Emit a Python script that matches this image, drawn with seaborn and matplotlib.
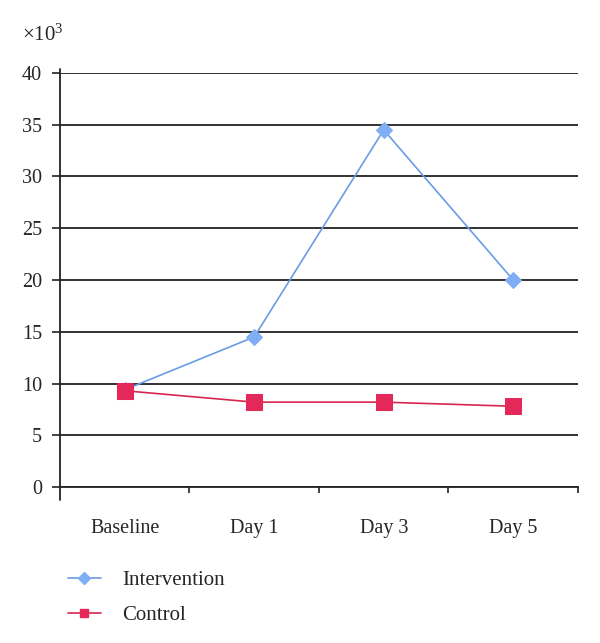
import matplotlib
matplotlib.use("Agg")
import matplotlib.pyplot as plt
from matplotlib.lines import Line2D
import seaborn as sns
import pandas as pd

categories = ["Baseline", "Day 1", "Day 3", "Day 5"]
intervention = [9.4, 14.5, 34.5, 20.0]
control = [9.3, 8.2, 8.2, 7.8]
series_names = ["Intervention", "Control"]
yticks = [0, 5, 10, 15, 20, 25, 30, 35, 40]

sns.set_theme(style="white")
plt.rcParams["font.family"] = ["Liberation Serif", "DejaVu Serif"]
plt.rcParams["mathtext.fontset"] = "custom"
plt.rcParams["mathtext.rm"] = "Liberation Serif"
plt.rcParams["mathtext.it"] = "Liberation Serif:italic"

blue_line = "#6A9BE6"
blue_mk = "#7FAEF5"
red_line = "#D9264F"
red_mk = "#E5285A"
dark = "#222222"

fig = plt.figure(figsize=(6.0, 6.43), dpi=100)
ax = fig.add_axes([0.1, 0.2426, 0.8633, 0.6439])

xpos = list(range(len(categories)))
df_i = pd.DataFrame({"x": xpos, "y": intervention})
df_c = pd.DataFrame({"x": xpos, "y": control})

sns.lineplot(data=df_i, x="x", y="y", ax=ax, color=blue_line, linewidth=1.2,
             marker="D", markersize=8.6, markerfacecolor=blue_mk,
             markeredgecolor=blue_mk, zorder=3)
sns.lineplot(data=df_c, x="x", y="y", ax=ax, color=red_line, linewidth=1.2,
             marker="s", markersize=11.5, markerfacecolor=red_mk,
             markeredgecolor=red_mk, zorder=4)

ax.set_xlim(-0.5, len(categories) - 0.5)
ax.set_ylim(0, 40)
ax.set_yticks(yticks)
ax.set_yticklabels([str(v) for v in yticks], fontsize=14.5)
ax.yaxis.grid(True, color=dark, linewidth=1.3)
ax.set_axisbelow(True)

ax.set_xticks(xpos)
ax.set_xticklabels(categories, fontsize=14.5)
ax.set_xticks([0.5, 1.5, 2.5, 3.5], minor=True)
ax.tick_params(axis="x", which="major", length=0, pad=23)
ax.tick_params(axis="x", which="minor", length=4.5, width=1.2, color=dark,
               direction="out", bottom=True)
ax.tick_params(axis="y", which="major", length=6, width=1.2, color=dark,
               direction="out", left=True, pad=7)
ax.set_xlabel("")
ax.set_ylabel("")

for s in ["top", "right", "left"]:
    ax.spines[s].set_visible(False)
ax.spines["bottom"].set_color(dark)
ax.spines["bottom"].set_linewidth(1.3)
# left axis line, extending slightly beyond the plot area as in the original
ax.plot([0, 0], [-13 / 414, 1 + 4 / 414], transform=ax.transAxes,
        color=dark, linewidth=1.3, clip_on=False, zorder=5)

fig.text(22 / 600, 1 - 35 / 643, r"×10$^3$", fontsize=15, ha="left", va="center")

handles = [
    Line2D([], [], color=blue_line, linewidth=1.2, marker="D", markersize=6,
           markerfacecolor=blue_mk, markeredgecolor=blue_mk),
    Line2D([], [], color=red_line, linewidth=1.2, marker="s", markersize=6,
           markerfacecolor=red_mk, markeredgecolor=red_mk),
]
fig.legend(handles, series_names, loc="upper left",
           bbox_to_anchor=(49 / 600, 1 - 552 / 643), frameon=False,
           fontsize=15, handlelength=1.6, handletextpad=1.02, labelspacing=0.72)

fig.savefig("out.png", dpi=100)
